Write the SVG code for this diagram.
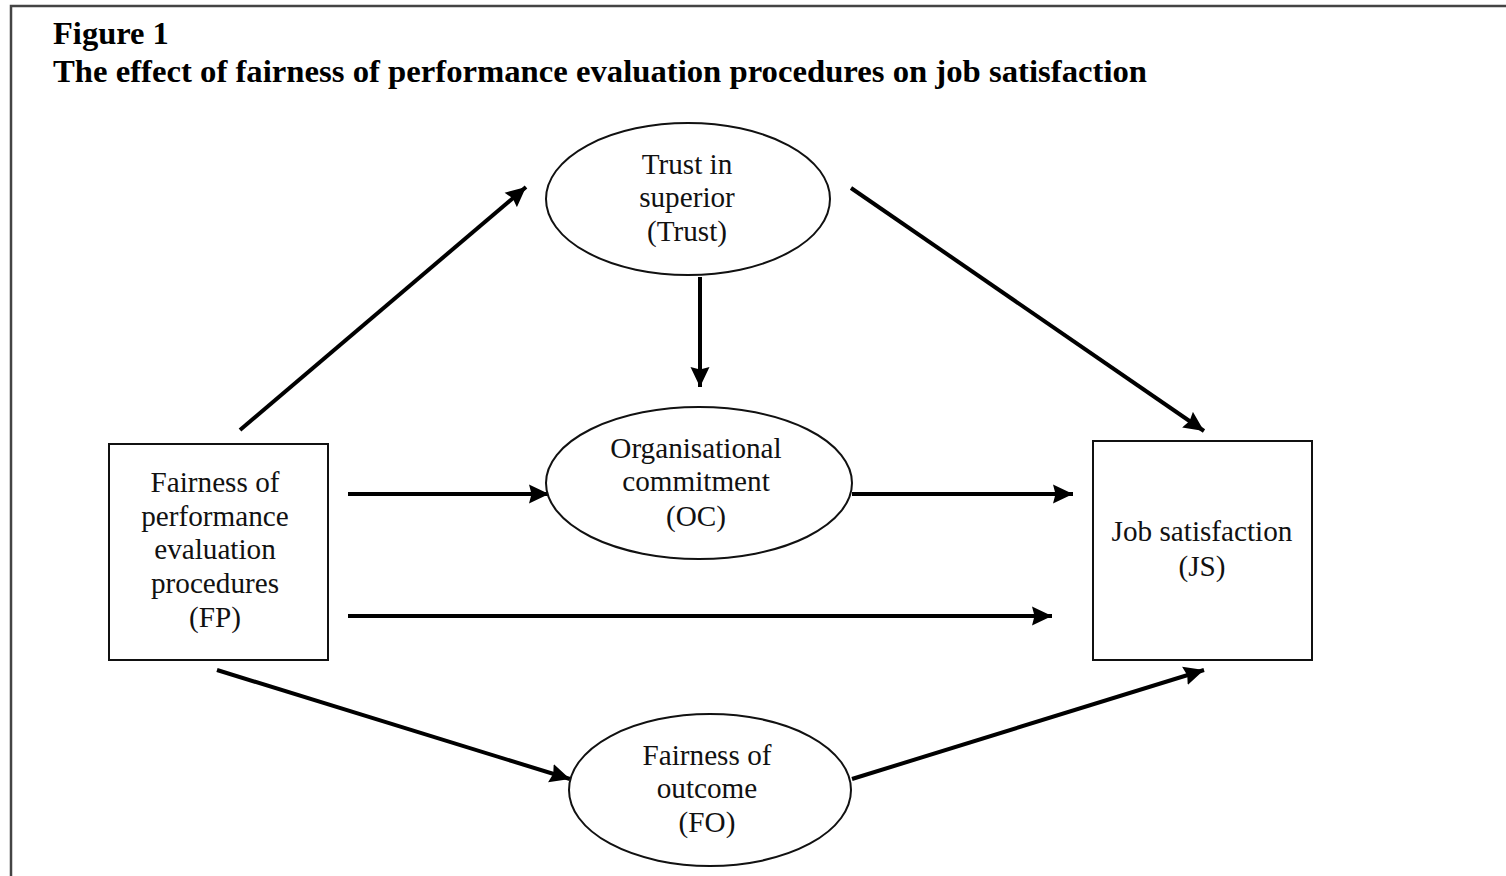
<svg xmlns="http://www.w3.org/2000/svg" width="1506" height="876" viewBox="0 0 1506 876">
  <style>
    .title { font-family: "Liberation Serif", "Times New Roman", serif; font-weight: bold; font-size: 32.5px; fill: #000; }
    .label { font-family: "Liberation Serif", "Times New Roman", serif; font-size: 29.2px; fill: #111; text-anchor: middle; }
    .shape { fill: #fff; stroke: #111; stroke-width: 2; }
    .edge { stroke: #000; stroke-width: 4; fill: none; marker-end: url(#head); }
  </style>
  <defs>
    <marker id="head" markerUnits="userSpaceOnUse" markerWidth="22" markerHeight="20" refX="20" refY="10" orient="auto">
      <path d="M0,0.5 L20,10 L0,19.5 L2.5,10 Z" fill="#000"/>
    </marker>
  </defs>

  <rect width="1506" height="876" fill="#fff"/>
  <!-- outer frame -->
  <path d="M11,880 L11,6 L1510,6" fill="none" stroke="#444" stroke-width="2.5"/>

  <text class="title" x="53" y="44">Figure 1</text>
  <text class="title" x="53" y="82" textLength="1094" lengthAdjust="spacingAndGlyphs">The effect of fairness of performance evaluation procedures on job satisfaction</text>

  <g id="connectors">
    <line class="edge" x1="240" y1="430" x2="526" y2="187"/>
    <line class="edge" x1="700" y1="277" x2="700" y2="387"/>
    <line class="edge" x1="851" y1="188" x2="1204" y2="431"/>
    <line class="edge" x1="348" y1="494" x2="549" y2="494"/>
    <line class="edge" x1="852" y1="494" x2="1073" y2="494"/>
    <line class="edge" x1="348" y1="616" x2="1052" y2="616"/>
    <line class="edge" x1="217" y1="670" x2="570" y2="779"/>
    <line class="edge" x1="852" y1="779" x2="1204" y2="670"/>
  </g>

  <g id="trust">
    <ellipse class="shape" cx="688" cy="199" rx="142" ry="76"/>
    <text class="label" x="687" y="174">Trust in</text>
    <text class="label" x="687" y="207">superior</text>
    <text class="label" x="687" y="241">(Trust)</text>
  </g>

  <g id="oc">
    <ellipse class="shape" cx="699" cy="483" rx="153" ry="76"/>
    <text class="label" x="696" y="458">Organisational</text>
    <text class="label" x="696" y="491">commitment</text>
    <text class="label" x="696" y="526">(OC)</text>
  </g>

  <g id="fo">
    <ellipse class="shape" cx="710" cy="790" rx="141" ry="76"/>
    <text class="label" x="707" y="765">Fairness of</text>
    <text class="label" x="707" y="798">outcome</text>
    <text class="label" x="707" y="832">(FO)</text>
  </g>

  <g id="fp">
    <rect class="shape" x="109" y="444" width="219" height="216"/>
    <text class="label" x="215" y="492">Fairness of</text>
    <text class="label" x="215" y="526">performance</text>
    <text class="label" x="215" y="559">evaluation</text>
    <text class="label" x="215" y="593">procedures</text>
    <text class="label" x="215" y="627">(FP)</text>
  </g>

  <g id="js">
    <rect class="shape" x="1093" y="441" width="219" height="219"/>
    <text class="label" x="1202" y="541">Job satisfaction</text>
    <text class="label" x="1202" y="576">(JS)</text>
  </g>
</svg>
